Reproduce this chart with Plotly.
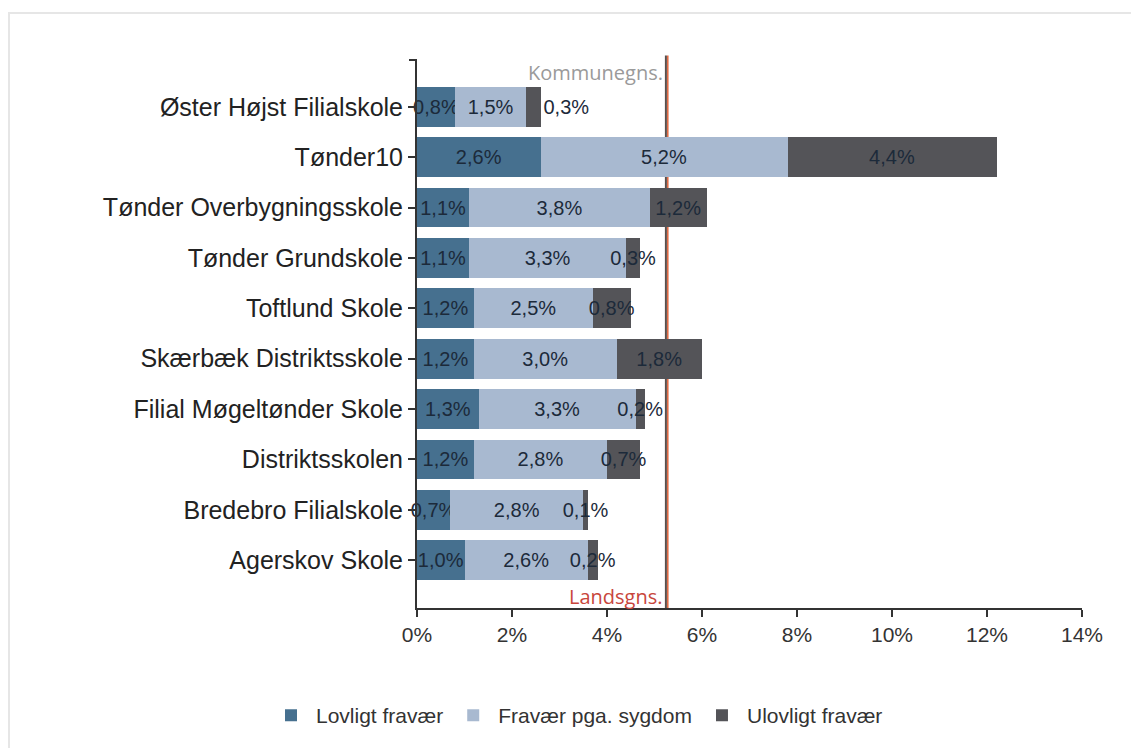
import plotly.graph_objects as go

schools = [
    "Øster Højst Filialskole",
    "Tønder10",
    "Tønder Overbygningsskole",
    "Tønder Grundskole",
    "Toftlund Skole",
    "Skærbæk Distriktsskole",
    "Filial Møgeltønder Skole",
    "Distriktsskolen",
    "Bredebro Filialskole",
    "Agerskov Skole",
]
lovligt = [0.8, 2.6, 1.1, 1.1, 1.2, 1.2, 1.3, 1.2, 0.7, 1.0]
sygdom = [1.5, 5.2, 3.8, 3.3, 2.5, 3.0, 3.3, 2.8, 2.8, 2.6]
ulovligt = [0.3, 4.4, 1.2, 0.3, 0.8, 1.8, 0.2, 0.7, 0.1, 0.2]

series_names = ["Lovligt fravær", "Fravær pga. sygdom", "Ulovligt fravær"]
series_colors = ["#46708f", "#a8b9d0", "#545458"]

kommune_gns = 5.24
lands_gns = 5.28

x_ticks = [0, 2, 4, 6, 8, 10, 12, 14]
x_tick_labels = ["0%", "2%", "4%", "6%", "8%", "10%", "12%", "14%"]


def fmt(v):
    return f"{v:.1f}%".replace(".", ",")


fig = go.Figure()
for i, (name, vals, col) in enumerate(zip(series_names, [lovligt, sygdom, ulovligt], series_colors)):
    if i == 2:
        # first school's tiny last segment: label pushed out to the right as in the source
        positions = ["outside"] + ["inside"] * (len(vals) - 1)
    else:
        positions = "inside"
    fig.add_trace(go.Bar(
        y=schools, x=vals, name=name, orientation="h",
        marker=dict(color=col, line=dict(width=0)),
        width=0.79,
        text=[fmt(v) for v in vals],
        textposition=positions,
        insidetextanchor="middle",
        textangle=0,
        constraintext="none",
        cliponaxis=False,
        textfont=dict(family="Liberation Sans, Arial", size=20, color="#1c2a3a"),
        outsidetextfont=dict(family="Liberation Sans, Arial", size=20, color="#1c2a3a"),
        hoverinfo="skip",
    ))

shapes = [
    dict(type="line", xref="x", yref="paper", x0=kommune_gns, x1=kommune_gns,
         y0=0, y1=1.008, line=dict(color="#5a4f4c", width=2), layer="below"),
    dict(type="line", xref="x", yref="paper", x0=lands_gns, x1=lands_gns,
         y0=0, y1=1.008, line=dict(color="#e0643c", width=1.5), layer="below"),
    # top cap tick of the y axis
    dict(type="line", xref="paper", yref="paper", xsizemode="pixel", xanchor=0,
         x0=-8, x1=0, y0=1, y1=1, line=dict(color="#333333", width=2)),
    # outer light border
    dict(type="rect", xref="paper", yref="paper", xsizemode="pixel", ysizemode="pixel",
         xanchor=0, yanchor=1, x0=-408, x1=720, y0=47, y1=-800,
         line=dict(color="#e6e6e6", width=2), layer="below"),
]

annotations = [
    dict(x=kommune_gns, y=1, xref="x", yref="paper", text="Kommunegns.",
         showarrow=False, xanchor="right", yanchor="middle", yshift=-12, xshift=-1,
         font=dict(family="Open Sans, DejaVu Sans", size=20, color="#9a9a9a")),
    dict(x=lands_gns, y=0, xref="x", yref="paper", text="Landsgns.",
         showarrow=False, xanchor="right", yanchor="middle", yshift=12, xshift=-3,
         font=dict(family="Open Sans, DejaVu Sans", size=20, color="#c8463c")),
]

fig.update_layout(
    width=1123, height=740,
    barmode="stack",
    bargap=0.21,
    paper_bgcolor="white",
    plot_bgcolor="white",
    margin=dict(l=409, r=49, t=52, b=138),
    shapes=shapes,
    annotations=annotations,
    showlegend=True,
    legend=dict(orientation="h", x=(577 - 417) / 665, y=-(718 - 610) / 550,
                xanchor="center", yanchor="middle",
                font=dict(family="Liberation Sans, Arial", size=21, color="#333333"),
                traceorder="normal", itemwidth=40),
    xaxis=dict(range=[0, 14], tickvals=x_ticks, ticktext=x_tick_labels,
               showgrid=False, zeroline=False, showline=True, linecolor="#333333", linewidth=2,
               ticks="outside", ticklen=7, tickwidth=2, tickcolor="#333333",
               tickfont=dict(family="Liberation Sans, Arial", size=21, color="#333333")),
    yaxis=dict(range=[9.95, -0.93], type="category",
               showgrid=False, zeroline=False, showline=True, linecolor="#333333", linewidth=2,
               ticks="outside", ticklen=7, tickwidth=2, tickcolor="#333333",
               tickfont=dict(family="Liberation Sans, Arial", size=25, color="#222222")),
)

fig.write_html("out.html")
